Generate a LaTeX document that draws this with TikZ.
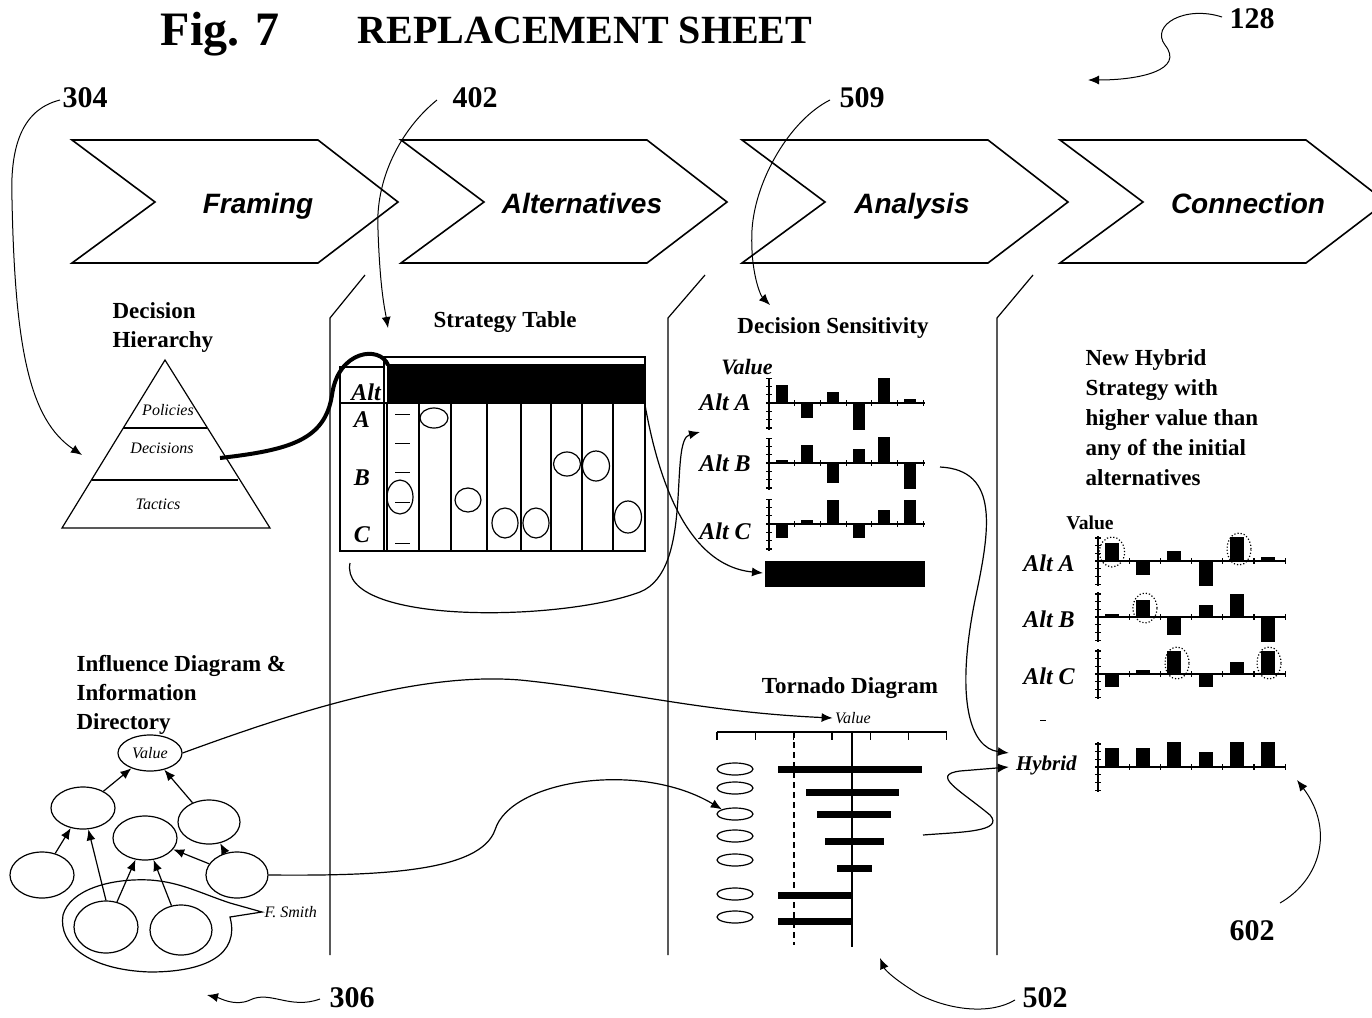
\documentclass[tikz,border=0pt]{standalone}
\usepackage{fontspec}
\setmainfont{Liberation Serif}
\newfontfamily\arialfont{Liberation Sans}
\usetikzlibrary{shapes.geometric,arrows.meta}

\tikzset{
  refnum/.style={font=\bfseries\fontsize{15}{17}\selectfont, anchor=base},
  heading/.style={font=\bfseries\fontsize{11.5}{14.5}\selectfont, align=left, inner sep=0pt},
  stagelabel/.style={font=\arialfont\bfseries\itshape\fontsize{14}{16}\selectfont, anchor=base},
  altlabel/.style={font=\bfseries\itshape\fontsize{12}{14}\selectfont},
  tinylabel/.style={font=\itshape\fontsize{8}{9}\selectfont, inner sep=1pt},
  oval/.style={draw, ellipse, inner sep=0pt},
  arr/.style={-{Latex[length=5.5pt,width=4.5pt]}},
  callout/.style={arr, line width=0.5pt},
}

\begin{document}
\begin{tikzpicture}[x=0.5pt, y=-0.5pt, line width=0.6pt]
    \useasboundingbox (0,0) rectangle (1372,1018);

    % Title
    \node[font=\bfseries\fontsize{24}{26}\selectfont, anchor=base] (fig) at (220,45) {Fig. 7};
    \node[font=\bfseries\fontsize{20}{22}\selectfont, anchor=base] (sheet) at (585,43) {REPLACEMENT SHEET};

    % Stages
    \foreach \x/\lx/\lab/\nm in {72/258/Framing/framing, 401/582/Alternatives/alts, 742/912/Analysis/analysis, 1060/1248/Connection/connection}{
        \draw[line width=0.8pt] (\x,140) -- ++(246,0) -- ++(80,62) -- ++(-80,61) -- ++(-246,0) -- ++(83,-61) -- cycle;
        \node[stagelabel] (\nm) at (\lx,213) {\lab};
    }

    % Column dividers
    \draw (365,275) -- (330,318) -- (330,955);
    \draw (705,275) -- (668,318) -- (668,955);
    \draw (1033,275) -- (997,318) -- (997,955);

    % Decision hierarchy
    \node[heading, anchor=north west] (hierarchy) at (112,302) {Decision\\Hierarchy};
    \coordinate (apex) at (165,360);
    \draw (apex) -- (270,528) -- (62,528) -- cycle;
    \draw (123,428) -- (207,428);
    \draw (92,480) -- (238,480);
    \node[tinylabel] (policies) at (168,410) {Policies};
    \node[tinylabel] (decisions) at (162,448) {Decisions};
    \node[tinylabel] (tactics) at (158,504) {Tactics};

    % Strategy table
    \node[heading] (strategy) at (505,322) {Strategy Table};
    \fill (387,364) rectangle (645,403);
    \draw (384,357) rectangle (645,551);
    \draw (340,367) rectangle (384,551);
    \draw (340,403) -- (645,403);
    \foreach \cx in {387,419,451,487,521,551,582,613}
        \draw (\cx,403) -- (\cx,551);
    \node[altlabel] (altcol) at (366,392) {Alt};
    \node[altlabel] (rowa) at (362,420) {A};
    \node[altlabel] (rowb) at (362,478) {B};
    \node[altlabel] (rowc) at (362,535) {C};
    \foreach \dy in {414,443,472,502,543}
        \draw[line width=0.4pt] (395,\dy) -- (410,\dy);
    \foreach \ex/\ey/\ew/\eh [count=\i] in {400/497/13/17, 434/418/14/10, 468/500/13/12, 505/523/13/15, 536/523/13/15, 567/464/13.5/12, 596/466/13.5/15, 628/517/13.5/16}
        \node[oval, minimum width=\ew pt, minimum height=\eh pt] (pick\i) at (\ex,\ey) {};
    \coordinate (hier) at (220,458);
    \coordinate (alttop) at (388,365);
    \draw[line width=2pt] (hier) .. controls (290,450) and (325,440) .. (332,395)
        .. controls (338,350) and (380,345) .. (alttop);

    % Decision sensitivity
    \node[heading] (sensitivity) at (833,328) {Decision Sensitivity};
    \node[altlabel, font=\bfseries\itshape\fontsize{11}{13}\selectfont] (svalue) at (747,367) {Value};
    \foreach \base/\ly/\lab/\nm/\hs in {403/402/Alt A/sa/{18,-15,11,-27,25,4}, 463/463/Alt B/sb/{3,18,-20,14,26,-26}, 524/531/Alt C/sc/{-14,4,24,-14,14,24}}{
        \node[altlabel, anchor=east] (\nm) at (758,\ly) {\lab};
        \draw (769,{\base-25}) -- (769,{\base+27});
        \foreach \k in {-3,...,3}
            \draw (766,{\base+8.3*\k}) -- (772,{\base+8.3*\k});
        \draw (769,\base) -- (925,\base);
        \foreach \k in {0,...,6}
            \draw ({769+25.7*\k},{\base-3}) -- ({769+25.7*\k},{\base+3});
        \foreach \h [count=\i from 0] in \hs
            \fill ({775.5+25.7*\i},\base) rectangle ({787.5+25.7*\i},{\base-(\h)});
    }
    \fill (765,561) rectangle (925,587);
    \coordinate (sumbar) at (763,573);

    % Tornado diagram
    \node[heading] (tornado) at (850,688) {Tornado Diagram};
    \node[tinylabel] (tvalue) at (853,718) {Value};
    \draw (717,732) -- (947,732);
    \foreach \k in {0,...,6}
        \draw ({717+38.3*\k},732) -- ({717+38.3*\k},740);
    \draw[densely dashed] (794,732) -- (794,945);
    \draw (852,732) -- (852,947);
    \foreach \ty/\ta/\tb in {769/778/922, 792/806/899, 814/817/891, 841/825/884, 868/837/872, 895/778/852, 921/778/852}
        \fill (\ta,{\ty-3.5}) rectangle (\tb,{\ty+3.5});
    \foreach \ty [count=\i] in {769,788,814,836,860,894,917}
        \node[oval, minimum width=18pt, minimum height=6pt] (t\i) at (735,\ty) {};

    % New hybrid strategy
    \node[heading, anchor=north west, font=\bfseries\fontsize{11.5}{15}\selectfont] (hybridtext) at (1085,349)
        {New Hybrid\\Strategy with\\higher value than\\any of the initial\\alternatives};
    \node[font=\bfseries\fontsize{9.8}{11}\selectfont] (hvalue) at (1090,523) {Value};
    \foreach \base/\lab/\nm/\hs in {561/Alt A/ha/{18,-14,10,-25,24,4}, 617/Alt B/hb/{3,17,-18,12,23,-25}, 674/Alt C/hc/{-13,4,23,-13,12,23}}{
        \node[altlabel, anchor=east] (\nm) at (1082,{\base+2}) {\lab};
        \draw (1098,{\base-25}) -- (1098,{\base+25});
        \foreach \k in {-3,...,3}
            \draw (1095,{\base+7.7*\k}) -- (1101,{\base+7.7*\k});
        \draw (1098,\base) -- (1285,\base);
        \foreach \k in {0,...,6}
            \draw ({1098+31.2*\k},{\base-3}) -- ({1098+31.2*\k},{\base+3});
        \foreach \h [count=\i from 0] in \hs
            \fill ({1105+31.2*\i},\base) rectangle ({1119+31.2*\i},{\base-(\h)});
    }
    \draw[line width=0.4pt] (1040,720) -- (1046,720);
    \node[altlabel, font=\bfseries\itshape\fontsize{10.5}{12}\selectfont, anchor=east] (hybrid) at (1084,765) {Hybrid};
    \draw (1098,742) -- (1098,792);
    \foreach \k in {-3,...,3}
        \draw (1095,{767+7.7*\k}) -- (1101,{767+7.7*\k});
    \draw (1098,767) -- (1285,767);
    \foreach \k in {0,...,6}
        \draw ({1098+31.2*\k},764) -- ({1098+31.2*\k},770);
    \foreach \h [count=\i from 0] in {19,19,25,15,25,25}
        \fill ({1105+31.2*\i},767) rectangle ({1119+31.2*\i},{767-\h});
    % picked bars
    \draw[densely dotted] (1112,552) ellipse [x radius=6.3pt, y radius=7.5pt];
    \draw[densely dotted] (1239,549) ellipse [x radius=6pt, y radius=8pt];
    \draw[densely dotted] (1145,608) ellipse [x radius=6pt, y radius=7.5pt];
    \draw[densely dotted] (1177,663) ellipse [x radius=6pt, y radius=8pt];
    \draw[densely dotted] (1269,663) ellipse [x radius=6pt, y radius=8pt];

    % Influence diagram
    \node[heading, anchor=north west] (influence) at (76,655) {Influence Diagram \&\\Information\\Directory};
    \node[oval, minimum width=32pt, minimum height=18pt, font=\itshape\fontsize{8}{9}\selectfont] (val) at (150,753) {Value};
    \node[oval, minimum width=32pt, minimum height=21pt] (n1) at (83,808) {};
    \node[oval, minimum width=31pt, minimum height=22pt] (n2) at (209,822) {};
    \node[oval, minimum width=32pt, minimum height=22pt] (n3) at (145,838) {};
    \node[oval, minimum width=32pt, minimum height=23pt] (n4) at (42,875) {};
    \node[oval, minimum width=31pt, minimum height=23pt] (n5) at (237,875) {};
    \node[oval, minimum width=32pt, minimum height=26pt] (n6) at (106,927) {};
    \node[oval, minimum width=31pt, minimum height=25pt] (n7) at (181,930) {};
    \draw[arr] (n1) -- (val);
    \draw[arr] (n2) -- (val);
    \draw[arr] (n4) -- (n1);
    \draw[arr] (n6.north) -- (n1);
    \draw[arr] (n6) -- (n3);
    \draw[arr] (n7) -- (n3);
    \draw[arr] (n5) -- (n3);
    \draw[arr] (n5) -- (n2);
    \node[tinylabel, anchor=west] (fsmith) at (262,912) {F. Smith};
    \draw (fsmith.west) -- (230,903) .. controls (200,893) and (180,882) .. (150,880)
        .. controls (110,878) and (70,890) .. (63,915)
        .. controls (58,945) and (90,970) .. (150,972)
        .. controls (205,972) and (240,955) .. (230,917) -- cycle;

    % Connections between tools
    \coordinate (tablecorner) at (350,563);
    \coordinate (altbin) at (700,432);
    \coordinate (tableright) at (645,405);
    \coordinate (sbout) at (940,467);
    \coordinate (tout) at (923,835);
    \draw[arr] (tablecorner) .. controls (338,625) and (560,622) .. (640,592)
        .. controls (695,570) and (668,440) .. (altbin);
    \draw[arr] (tableright) .. controls (655,460) and (680,565) .. (sumbar);
    \draw[arr] (val.east) .. controls (300,710) and (420,672) .. (520,680)
        .. controls (620,690) and (700,712) .. (tvalue.west);
    \draw[arr] (n5.east) .. controls (380,876) and (480,872) .. (495,830)
        .. controls (510,780) and (640,760) .. (t3.north west);
    \draw[arr] (sbout) .. controls (1000,470) and (990,530) .. (975,600)
        .. controls (955,700) and (970,748) .. ([yshift=6pt]hybrid.west);
    \draw[arr] (tout) .. controls (960,832) and (1005,832) .. (990,815)
        .. controls (960,790) and (930,775) .. (960,771) -- ([yshift=-1pt]hybrid.west);

    % Reference numerals
    \node[refnum] (r128) at (1252,28) {128};
    \node[refnum] (r304) at (85,107) {304};
    \node[refnum] (r402) at (475,107) {402};
    \node[refnum] (r509) at (862,107) {509};
    \node[refnum] (r306) at (352,1007) {306};
    \node[refnum] (r502) at (1045,1007) {502};
    \node[refnum] (r602) at (1252,940) {602};
    \coordinate (p128) at (1088,80);
    \coordinate (p304) at (82,455);
    \coordinate (p402) at (388,328);
    \coordinate (p509) at (770,305);
    \coordinate (p306) at (207,995);
    \coordinate (p502) at (880,958);
    \coordinate (p602) at (1297,780);
    \draw[callout] (1222,17) .. controls (1185,5) and (1150,25) .. (1165,45)
        .. controls (1185,70) and (1140,80) .. (p128);
    \draw[callout] (60,100) .. controls (20,110) and (10,150) .. (12,200)
        .. controls (15,350) and (30,420) .. (p304);
    \draw[callout] (437,100) .. controls (400,130) and (375,180) .. (378,230)
        .. controls (380,290) and (385,310) .. (p402);
    \draw[callout] (830,100) .. controls (790,120) and (755,180) .. (752,230)
        .. controls (750,270) and (760,295) .. (p509);
    \draw[callout] (320,999) .. controls (290,1010) and (270,990) .. (250,1000)
        .. controls (235,1007) and (220,998) .. (p306);
    \draw[callout] (1015,1000) .. controls (990,1015) and (950,1010) .. (920,995)
        .. controls (895,980) and (885,970) .. (p502);
    \draw[callout] (1280,903) .. controls (1320,880) and (1335,830) .. (p602);
\end{tikzpicture}
\end{document}
